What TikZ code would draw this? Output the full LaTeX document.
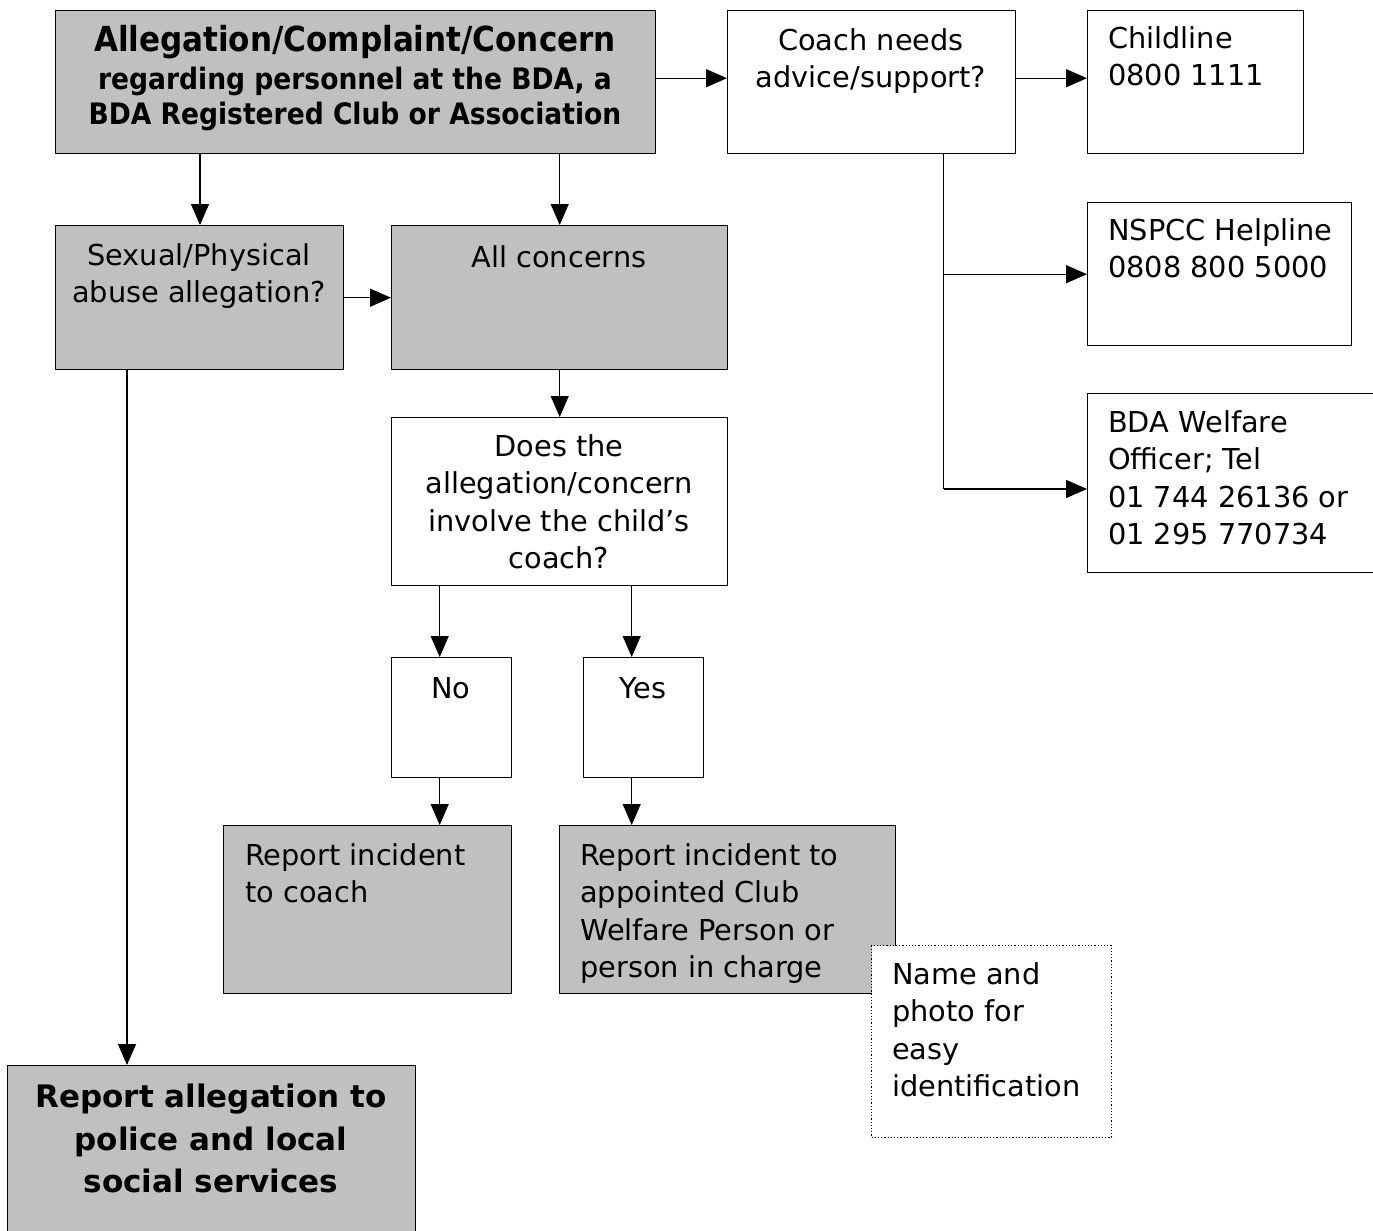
\documentclass[tikz,border=0pt]{standalone}
\usepackage{fontspec}
\setmainfont{DejaVu Sans}
\newfontfamily\condfont{DejaVu Sans Condensed}
\usetikzlibrary{arrows.meta}
\definecolor{boxgray}{HTML}{C0C0C0}
\tikzset{
  box/.style={draw=black, line width=1.4pt, rectangle, inner sep=0pt, anchor=north west},
  grey/.style={box, fill=boxgray},
  white/.style={box, fill=white},
  note/.style={draw=black, line width=1.2pt, dotted, fill=white, rectangle, inner sep=0pt, anchor=north west},
  arr/.style={line width=1.3pt, -{Triangle[length=21pt,width=18pt]}},
  ln/.style={line width=1.3pt},
  txt/.style={inner sep=0pt, font=\fontsize{28.8}{37.5}\selectfont},
  ctxt/.style={txt, align=center, anchor=north},
  ltxt/.style={txt, align=left, anchor=north west},
}
\begin{document}
\begin{tikzpicture}[x=1pt,y=-1pt]
\useasboundingbox (0,0) rectangle (1373,1231);
\clip (0,0) rectangle (1373,1231);
% boxes
\node[grey, minimum width=600pt, minimum height=143pt] (top) at (55,10) {};
\node[white, minimum width=288pt, minimum height=143pt] (coach) at (727,10) {};
\node[white, minimum width=216pt, minimum height=143pt] (childline) at (1087,10) {};
\node[white, minimum width=264pt, minimum height=143pt] (nspcc) at (1087,202) {};
\node[white, minimum width=300pt, minimum height=179pt] (bda) at (1087,393) {};
\node[grey, minimum width=288pt, minimum height=144pt] (sexual) at (55,225) {};
\node[grey, minimum width=336pt, minimum height=144pt] (all) at (391,225) {};
\node[white, minimum width=336pt, minimum height=168pt] (does) at (391,417) {};
\node[white, minimum width=120pt, minimum height=120pt] (no) at (391,657) {};
\node[white, minimum width=120pt, minimum height=120pt] (yes) at (583,657) {};
\node[grey, minimum width=288pt, minimum height=168pt] (repcoach) at (223,825) {};
\node[grey, minimum width=336pt, minimum height=168pt] (repwelf) at (559,825) {};
\node[note, minimum width=240pt, minimum height=192pt] (photo) at (871,945) {};
\node[grey, minimum width=408pt, minimum height=200pt] (police) at (7,1065) {};
% texts
\node[ctxt, font=\condfont\bfseries\fontsize{34.5}{40}\selectfont] (t1) at (355,25) {Allegation/Complaint/Concern};
\node[ctxt, font=\condfont\bfseries\fontsize{29.5}{35}\selectfont] (t1b) at (355,67) {regarding personnel at the BDA, a\\BDA Registered Club or Association};
\node[ctxt] (t2) at (871,28) {Coach needs\\advice/support?};
\node[ltxt] (t3) at (1108,26) {Childline\\0800 1111};
\node[ltxt] (t4) at (1108,218) {NSPCC Helpline\\0808 800 5000};
\node[ltxt] (t5) at (1108,410) {BDA Welfare\\Officer; Tel\\01 744 26136 or\\01 295 770734};
\node[ctxt] (t6) at (199,243) {Sexual/Physical\\abuse allegation?};
\node[ctxt] (t7) at (559,245) {All concerns};
\node[ctxt] (t8) at (559,434) {Does the\\allegation/concern\\involve the child’s\\coach?};
\node[ctxt] (t9) at (451,677) {No};
\node[ctxt] (t10) at (643,677) {Yes};
\node[ltxt] (t11) at (245,843) {Report incident\\to coach};
\node[ltxt] (t12) at (580,843) {Report incident to\\appointed Club\\Welfare Person or\\person in charge};
\node[ltxt] (t13) at (892,962) {Name and\\photo for\\easy\\identification};
\node[ctxt, font=\bfseries\fontsize{31}{42.5}\selectfont] (t14) at (211,1084) {Report allegation to\\police and local\\social services};
% connectors
\draw[arr] ([yshift=4pt]top.east) -- ([yshift=4pt]coach.west);
\draw[arr] ([yshift=4pt]coach.east) -- ([yshift=4pt]childline.west);
\draw[ln] ([xshift=72pt]coach.south) -- ([xshift=72pt]coach.south |- 0,489) coordinate (j2);
\draw[arr] ([xshift=72pt]coach.south |- nspcc.west) -- (nspcc.west);
\draw[arr] (j2) -- (j2 -| bda.west);
\draw[arr] ([xshift=145pt]top.south west) -- ([xshift=145pt]top.south west |- sexual.north);
\draw[arr] (top.south -| all.north) -- (all.north);
\draw[arr] (sexual.east) -- (all.west);
\draw[arr] (all.south) -- (does.north);
\draw[arr] ([xshift=-12pt]no.north |- does.south) -- ([xshift=-12pt]no.north);
\draw[arr] ([xshift=-12pt]yes.north |- does.south) -- ([xshift=-12pt]yes.north);
\draw[arr] ([xshift=-12pt]no.south) -- ([xshift=-12pt]no.south |- repcoach.north);
\draw[arr] ([xshift=-12pt]yes.south) -- ([xshift=-12pt]yes.south |- repwelf.north);
\draw[arr] ([xshift=72pt]sexual.south west) -- ([xshift=72pt]sexual.south west |- police.north);
\end{tikzpicture}
\end{document}
